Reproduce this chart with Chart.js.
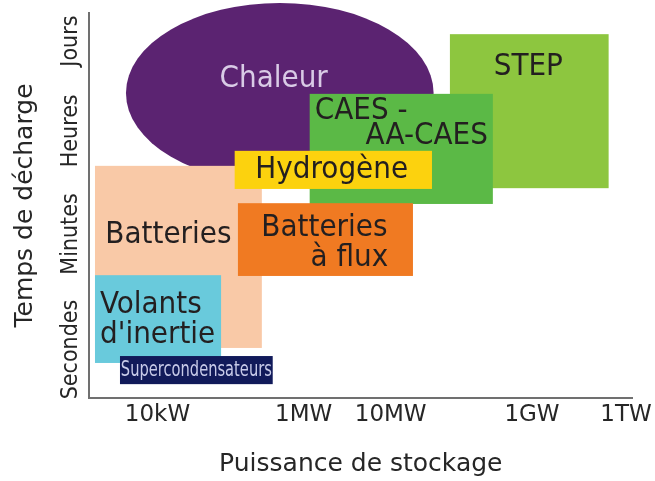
<!DOCTYPE html>
<html>
<head>
<meta charset="utf-8">
<script src="https://cdn.jsdelivr.net/npm/chart.js@4.4.1/dist/chart.umd.min.js"></script>
<style>
  html, body { margin: 0; padding: 0; background: #fff; }
  canvas { display: block; }
</style>
</head>
<body>
<canvas id="myChart" width="655" height="481"></canvas>
<script>
    // data (axis units are relative positions 0-100 on the drawn axes)

    const techs = ['Chaleur', 'STEP', 'CAES -\nAA-CAES', 'Batteries', 'Volants\nd\'inertie',
                   'Supercondensateurs', 'Batteries\nà flux', 'Hydrogène'];
    const powerMin = [6.8, 66.4, 40.6, 1.1, 1.1, 5.7, 27.4, 26.8];
    const powerMax = [63.4, 95.6, 74.3, 31.8, 24.3, 33.8, 59.6, 63.1];
    const timeMin = [55.8, 54.5, 50.4, 13.0, 9.1, 3.6, 31.7, 54.3];
    const timeMax = [102.6, 94.5, 79.0, 60.3, 31.9, 10.9, 50.6, 64.2];

    const powerTicks = [12.6, 39.5, 55.5, 81.5, 98.8];
    const powerLabels = ['10kW', '1MW', '10MW', '1GW', '1TW'];
    const timeTicks = [12.6, 42.6, 69.4, 92.7];
    const timeLabels = ['Secondes', 'Minutes', 'Heures', 'Jours'];

    // look of each zone, same order as techs
    const condensed = '"DejaVu Sans Condensed", "DejaVu Sans", sans-serif';
    const dark = '#231f20';
    const zoneStyle = [
      { fill: '#5b2371', color: '#d9cbe6', ellipse: true, lines: [[0.48, 0.467]] },
      { fill: '#8dc63f', color: dark, lines: [[0.494, 0.266]] },
      { fill: '#5bb946', color: dark, lines: [[0.281, 0.227], [0.639, 0.455]] },
      { fill: '#f9c9a7', color: dark, lines: [[0.44, 0.423]] },
      { fill: '#69cadc', color: dark, align: 'left', lines: [[0.04, 0.432], [0.04, 0.773]] },
      { fill: '#111a5a', color: '#c8cbe9', size: 21, maxWidth: 151, lines: [[0.5, 0.714]] },
      { fill: '#f07a22', color: dark, lines: [[0.494, 0.452], [0.637, 0.863]] },
      { fill: '#fcd20e', color: dark, lines: [[0.492, 0.711]] }
    ];

    // zones drawn from the scales
    const techZones = {
      id: 'techZones',
      afterDatasetsDraw(chart) {
        const {ctx, scales: {x, y}} = chart;
        techs.forEach((name, i) => {
          const st = zoneStyle[i];
          const l = x.getPixelForValue(powerMin[i]);
          const r = x.getPixelForValue(powerMax[i]);
          const t = y.getPixelForValue(timeMax[i]);
          const b = y.getPixelForValue(timeMin[i]);
          ctx.save();
          ctx.fillStyle = st.fill;
          if (st.ellipse) {
            ctx.beginPath();
            ctx.ellipse((l + r) / 2, (t + b) / 2, (r - l) / 2, (b - t) / 2, 0, 0, Math.PI * 2);
            ctx.fill();
          } else {
            ctx.fillRect(l, t, r - l, b - t);
          }
          ctx.fillStyle = st.color;
          ctx.font = (st.size || 31) + 'px ' + condensed;
          ctx.textAlign = st.align || 'center';
          ctx.textBaseline = 'alphabetic';
          name.split('\n').forEach((line, k) => {
            const [fx, fy] = st.lines[k];
            const px = l + fx * (r - l), py = t + fy * (b - t);
            if (st.maxWidth) ctx.fillText(line, px, py, st.maxWidth);
            else ctx.fillText(line, px, py);
          });
          ctx.restore();
        });
      }
    };

    // y tick labels are turned, centre them on the tick
    const yTickFont = { family: condensed, size: 23 };
    const meas = document.createElement('canvas').getContext('2d');
    meas.font = yTickFont.size + 'px ' + yTickFont.family;
    const widest = Math.max(...timeLabels.map(s => meas.measureText(s).width));

    Chart.defaults.color = '#262626';

    const config = {
      type: 'scatter',
      data: { datasets: [] },
      options: {
        responsive: false,
        animation: false,
        events: [],
        layout: { padding: { left: 0, top: 13, right: 22, bottom: 0 } },
        plugins: { legend: { display: false }, tooltip: { enabled: false } },
        scales: {
          x: {
            type: 'linear',
            min: 0,
            max: 100,
            grid: { display: false, drawTicks: false, tickLength: 0 },
            border: { display: true, color: '#707070', width: 2 },
            afterBuildTicks: s => { s.ticks = powerTicks.map(v => ({ value: v })); },
            afterFit: s => { s.height = 83; },
            ticks: {
              autoSkip: false,
              maxRotation: 0,
              padding: 3,
              font: { family: '"DejaVu Sans", sans-serif', size: 23 },
              callback: (v, i) => powerLabels[i]
            },
            title: {
              display: true,
              text: 'Puissance de stockage',
              font: { family: '"DejaVu Sans", sans-serif', size: 25 },
              padding: { top: 0, bottom: 2 }
            }
          },
          y: {
            type: 'linear',
            min: 0,
            max: 100,
            grid: { display: false, drawTicks: false, tickLength: 0 },
            border: { display: true, color: '#707070', width: 2 },
            afterBuildTicks: s => { s.ticks = timeTicks.map(v => ({ value: v })); },
            afterFit: s => { s.width = 89; },
            ticks: {
              autoSkip: false,
              minRotation: 90,
              maxRotation: 90,
              crossAlign: 'center',
              padding: 18 - widest / 2,
              font: yTickFont,
              callback: (v, i) => timeLabels[i]
            },
            title: {
              display: true,
              text: 'Temps de décharge',
              font: { family: '"DejaVu Sans", sans-serif', size: 25 },
              padding: { top: 10, bottom: 0 }
            }
          }
        }
      },
      plugins: [techZones]
    };

    const myChart = new Chart(document.getElementById('myChart'), config);
</script>
</body>
</html>
